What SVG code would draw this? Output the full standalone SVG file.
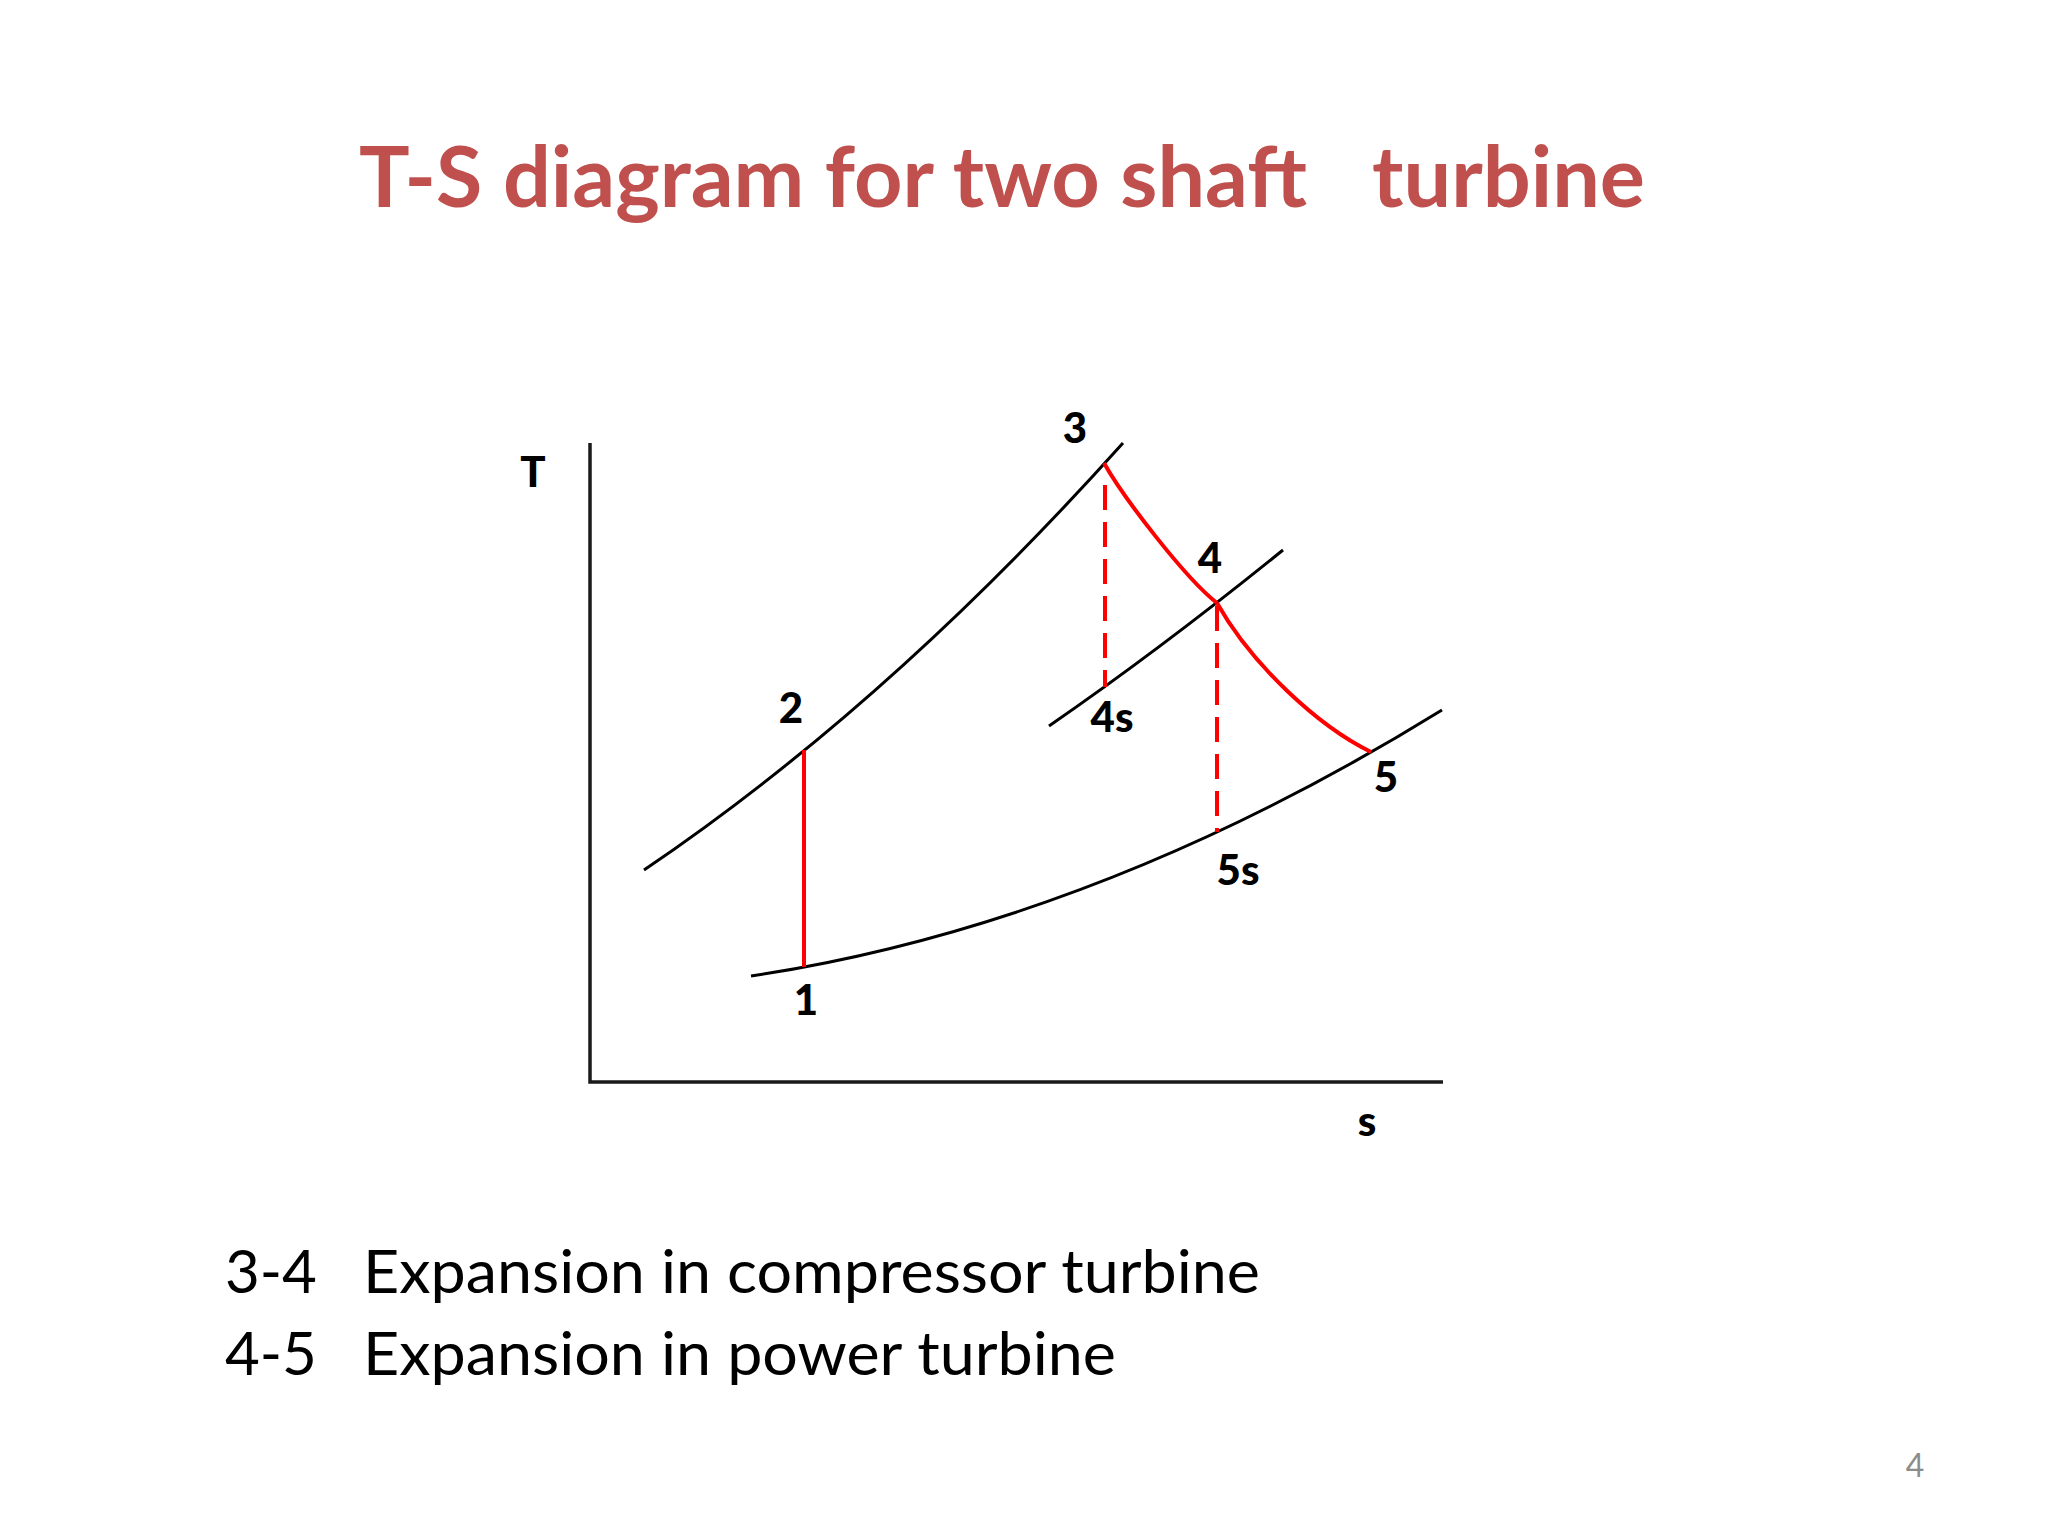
<svg xmlns="http://www.w3.org/2000/svg" width="2048" height="1536" viewBox="0 0 2048 1536">
<style>
.title{font-family:Lato,"Liberation Sans",sans-serif;font-weight:bold;font-size:84px;fill:#C0504D}
.lbl{font-family:Lato,"Liberation Sans",sans-serif;font-weight:900;font-size:42px;fill:#000;text-anchor:middle}
.body{font-family:Lato,"Liberation Sans",sans-serif;font-size:60px;fill:#000}
.pg{font-family:Lato,"Liberation Sans",sans-serif;font-size:32px;fill:#8C8C8C;text-anchor:middle}
.axis{fill:none;stroke:#1a1a1a;stroke-width:3.5}
.iso{fill:none;stroke:#000;stroke-width:3}
.proc{fill:none;stroke:#FF0000;stroke-width:4}
.dash{fill:none;stroke:#FF0000;stroke-width:4;stroke-dasharray:25 12}
</style>
<rect width="2048" height="1536" fill="#fff"/>
<g id="title">
<text class="title" x="359" y="207" textLength="948" lengthAdjust="spacingAndGlyphs">T-S diagram for two shaft</text>
<text class="title" x="1372" y="207" textLength="273" lengthAdjust="spacingAndGlyphs">turbine</text>
</g>
<g id="axes">
<polyline class="axis" points="590,443 590,1082 1443,1082"/>
<text class="lbl" x="533" y="487">T</text>
<text class="lbl" x="1367" y="1136">s</text>
</g>
<g id="connectors">
<path class="iso" d="M644,870 Q888,705 1123,443"/>
<path class="iso" d="M1049,726 Q1162,648 1283,550"/>
<path class="iso" d="M751,976 Q1096,924 1442,710"/>
<line class="proc" x1="804" y1="750" x2="804" y2="967"/>
<path class="proc" d="M1104,463 C1123,497 1185,578 1217,603"/>
<path class="proc" d="M1217,603 C1252,665 1318,726 1371,752"/>
<line class="dash" x1="1105" y1="485" x2="1105" y2="687"/>
<line class="dash" x1="1217" y1="606" x2="1217" y2="832"/>
</g>
<g id="p1"><text class="lbl" x="806" y="1015">1</text></g>
<g id="p2"><text class="lbl" x="791" y="723">2</text></g>
<g id="p3"><text class="lbl" x="1075" y="443">3</text></g>
<g id="p4"><text class="lbl" x="1210" y="573">4</text></g>
<g id="p4s"><text class="lbl" x="1112" y="732">4s</text></g>
<g id="p5"><text class="lbl" x="1386" y="792">5</text></g>
<g id="p5s"><text class="lbl" x="1238" y="885">5s</text></g>
<g id="legend">
<text class="body" x="225" y="1293">3-4</text>
<text class="body" x="363" y="1293" textLength="897" lengthAdjust="spacingAndGlyphs">Expansion in compressor turbine</text>
<text class="body" x="225" y="1375">4-5</text>
<text class="body" x="363" y="1375" textLength="753" lengthAdjust="spacingAndGlyphs">Expansion in power turbine</text>
</g>
<g id="page"><text class="pg" x="1915" y="1477">4</text></g>
</svg>
